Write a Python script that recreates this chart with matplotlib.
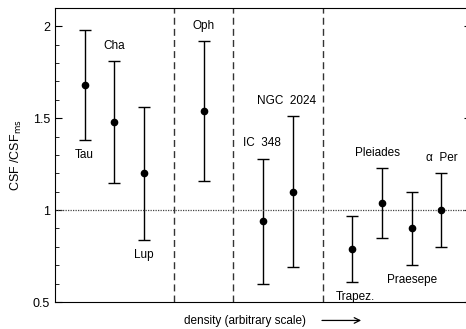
import numpy as np
import matplotlib.pyplot as plt

plt.rcParams['font.family'] = ['Liberation Sans', 'DejaVu Sans']

# regions ordered by density, values of CSF/CSF_ms with error range
names = ['Tau', 'Cha', 'Lup', 'Oph', 'IC  348', 'NGC  2024',
         'Trapez.', 'Pleiades', 'Praesepe', 'α  Per']
xpos = [1, 2, 3, 5, 7, 8, 10, 11, 12, 13]
csf = [1.68, 1.48, 1.20, 1.54, 0.94, 1.10, 0.79, 1.04, 0.90, 1.00]
upper = [1.98, 1.81, 1.56, 1.92, 1.28, 1.51, 0.97, 1.23, 1.10, 1.20]
lower = [1.38, 1.15, 0.84, 1.16, 0.60, 0.69, 0.61, 0.85, 0.70, 0.80]
# label placed above (+1) or below (-1) the bar
label_side = [-1, 1, -1, 1, 1, 1, -1, 1, -1, 1]
label_dx = [0, 0, 0, 0, -0.05, -0.2, 0.1, -0.15, 0, 0]
dividers = [4, 6, 9]

fig = plt.figure(figsize=(4.66, 3.29), dpi=100)
ax = fig.add_axes([0.118, 0.082, 0.893, 0.894])

csf = np.array(csf)
yerr = [csf - np.array(lower), np.array(upper) - csf]
ax.errorbar(xpos, csf, yerr=yerr, fmt='o', color='black', ms=4.5,
            elinewidth=1.0, capsize=4, capthick=1.0)

for x in dividers:
    ax.axvline(x, color='#333333', lw=1.0, ls=(0, (5, 3)))
ax.axhline(1.0, color='#444444', lw=0.9, ls=(0, (1, 1)))

for i, name in enumerate(names):
    if label_side[i] > 0:
        ax.text(xpos[i] + label_dx[i], upper[i] + 0.05, name,
                ha='center', va='bottom', fontsize=8.5)
    else:
        ax.text(xpos[i] + label_dx[i], lower[i] - 0.05, name,
                ha='center', va='top', fontsize=8.5)

ax.set_xlim(0, 14)
ax.set_ylim(0.5, 2.1)
ax.set_yticks([0.5, 1, 1.5, 2])
ax.set_yticklabels(['0.5', '1', '1.5', '2'])
ax.set_yticks(np.arange(0.5, 2.11, 0.1), minor=True)
ax.set_xticks([])
ax.tick_params(axis='y', which='both', direction='in', right=True, labelsize=9)
ax.tick_params(axis='y', which='major', length=5)
ax.tick_params(axis='y', which='minor', length=3)
ax.set_ylabel('CSF /CSF$_{\\rm ms}$', fontsize=9)
ax.yaxis.set_label_coords(-0.075, 0.5)

fig.text(0.525, 0.024, 'density (arbitrary scale)', ha='center',
         va='center', fontsize=8.5)
ax.annotate('', xy=(0.781, 0.026), xytext=(0.685, 0.026),
            xycoords='figure fraction',
            arrowprops=dict(arrowstyle='->', color='black', lw=0.9))

fig.savefig('out.png', dpi=100)
